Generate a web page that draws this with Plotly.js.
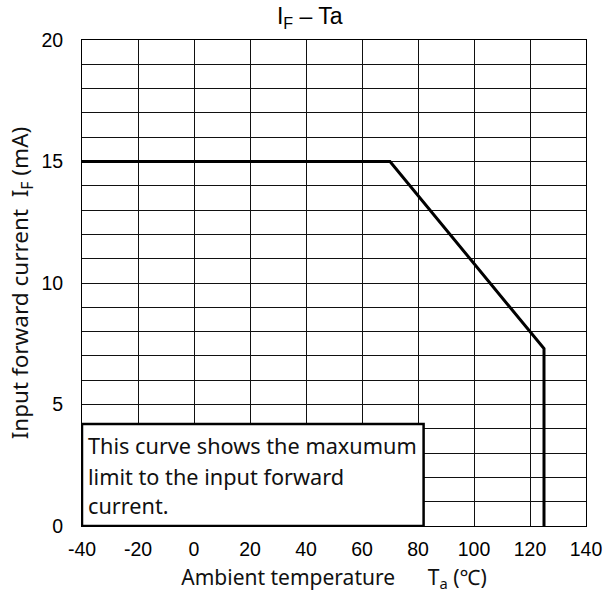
<!DOCTYPE html>
<html>
<head>
<meta charset="utf-8">
<script src="https://cdn.plot.ly/plotly-3.0.1.min.js"></script>
<style>html,body{margin:0;padding:0;background:#fff;}#chart{width:605px;height:601px;}</style>
</head>
<body>
<div id="chart"></div>
<script>
// Data
const temperature = [-40, 70, 125, 125];   // Ta (°C)
const forwardCurrent = [15, 15, 7.3, 0];    // IF (mA)
const xTickVals = [-40, -20, 0, 20, 40, 60, 80, 100, 120, 140];
const xTickLabels = ['-40', '-20', '0', '20', '40', '60', '80', '100', '120', '140'];
const noteLines = ["This curve shows the maxumum", "limit to the input forward", "current."];
const noteBox = {x0: -40, x1: 82, y0: 0, y1: 4.2};

const sansT = "Liberation Sans, Arial, sans-serif";
const sansU = "Noto Sans, Open Sans, sans-serif";
const NB = '\u00A0';

const trace = {
  x: temperature, y: forwardCurrent, mode: 'lines', type: 'scatter',
  line: {color: '#000', width: 3}, hoverinfo: 'skip', showlegend: false
};

const annY = [3.33, 2.05, 0.86];
const annotations = noteLines.map((t, i) => ({
  text: t, x: -38.4, y: annY[i], xref: 'x', yref: 'y', xanchor: 'left', yanchor: 'middle',
  showarrow: false, font: {family: sansU, size: 21.7, color: '#111'}
}));

const layout = {
  width: 605, height: 601,
  margin: {l: 81.5, r: 19, t: 39.5, b: 75},
  paper_bgcolor: '#fff', plot_bgcolor: '#fff',
  title: {text: 'I<sub>F</sub> – Ta', xref: 'container', x: 0.512, xanchor: 'center',
          yref: 'container', y: 1 - 16/601, yanchor: 'middle',
          font: {family: sansT, size: 23, color: '#000'}},
  xaxis: {range: [-40, 140], tickvals: xTickVals, ticktext: xTickLabels,
          showgrid: true, gridcolor: '#111', gridwidth: 1,
          zeroline: false, showline: true, linecolor: '#000', linewidth: 1, mirror: true,
          ticks: '', ticklabelstandoff: 6,
          tickfont: {family: sansT, size: 19.5, color: '#000'},
          title: {text: 'Ambient temperature' + NB + NB + NB + NB + NB + NB + 'T<sub>a</sub> (℃)', standoff: 10,
                  font: {family: sansU, size: 21, color: '#111'}}},
  yaxis: {range: [0, 20], dtick: 5, tick0: 0, showgrid: true, gridcolor: '#111', gridwidth: 1,
          minor: {dtick: 1, showgrid: true, gridcolor: '#111', gridwidth: 1},
          zeroline: false, showline: true, linecolor: '#000', linewidth: 1, mirror: true,
          ticks: '', ticklabelstandoff: 14,
          tickfont: {family: sansT, size: 19.5, color: '#000'},
          title: {text: 'Input forward current' + NB + NB + 'I<sub>F</sub> (mA)', standoff: 6,
                  font: {family: sansU, size: 22.5, color: '#111'}}},
  shapes: [{type: 'rect', xref: 'x', yref: 'y', x0: noteBox.x0, x1: noteBox.x1, y0: noteBox.y0, y1: noteBox.y1,
            line: {color: '#000', width: 2.5}, fillcolor: '#fff', layer: 'above'}],
  annotations: annotations
};

Plotly.newPlot('chart', [trace], layout, {displayModeBar: false, staticPlot: true});
</script>
</body>
</html>
